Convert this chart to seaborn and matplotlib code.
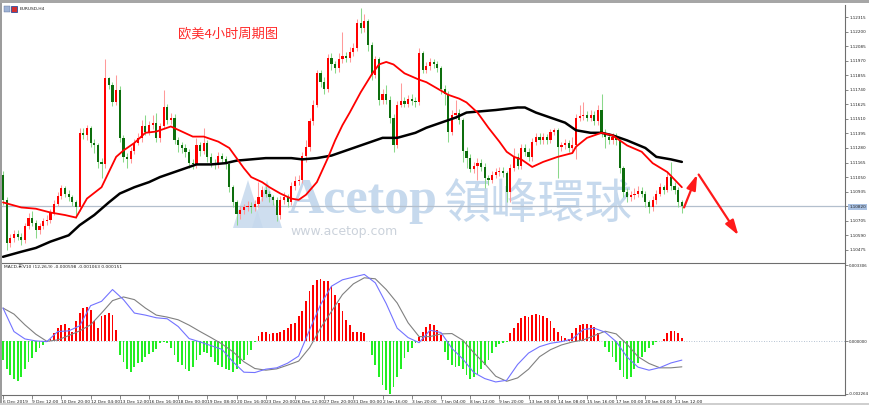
#!/usr/bin/env python3
"""
EURUSD H4 캔들 + MA + MACD (MT4 스타일 재현)
"""

import numpy as np
import matplotlib
matplotlib.use('Agg')
import matplotlib.pyplot as plt
from matplotlib.patches import Rectangle, Polygon
import seaborn as sns

# ---- 가격 데이터 (4시간봉, 6 Dec 2019 ~ 21 Jan 2020) ----
first_open = 1.1107

closes = [
    1.1087, 1.1053, 1.1057, 1.1060, 1.1058, 1.1055, 1.1066, 1.1073, 1.1069, 1.1063,
    1.1066, 1.1070, 1.1071, 1.1077, 1.1084, 1.1090, 1.1096, 1.1092, 1.1089, 1.1085,
    1.1081, 1.1140, 1.1138, 1.1144, 1.1132, 1.1130, 1.1117, 1.1115, 1.1183, 1.1178,
    1.1164, 1.1174, 1.1136, 1.1121, 1.1119, 1.1126, 1.1132, 1.1136, 1.1145, 1.1141,
    1.1146, 1.1148, 1.1136, 1.1145, 1.1160, 1.1150, 1.1152, 1.1134, 1.1130, 1.1128,
    1.1125, 1.1116, 1.1115, 1.1130, 1.1126, 1.1132, 1.1121, 1.1116, 1.1115, 1.1122,
    1.1119, 1.1115, 1.1097, 1.1085, 1.1076, 1.1079, 1.1081, 1.1082, 1.1081, 1.1084,
    1.1089, 1.1095, 1.1092, 1.1089, 1.1087, 1.1075, 1.1087, 1.1089, 1.1085, 1.1098,
    1.1102, 1.1103, 1.1122, 1.1129, 1.1149, 1.1162, 1.1187, 1.1180, 1.1175, 1.1199,
    1.1194, 1.1191, 1.1198, 1.1201, 1.1199, 1.1204, 1.1207, 1.1227, 1.1223, 1.1228,
    1.1209, 1.1186, 1.1198, 1.1166, 1.1171, 1.1166, 1.1152, 1.1130, 1.1162, 1.1165,
    1.1163, 1.1167, 1.1165, 1.1164, 1.1203, 1.1190, 1.1193, 1.1196, 1.1194, 1.1191,
    1.1175, 1.1171, 1.1141, 1.1154, 1.1156, 1.1150, 1.1126, 1.1120, 1.1111, 1.1114,
    1.1116, 1.1113, 1.1104, 1.1103, 1.1107, 1.1109, 1.1110, 1.1108, 1.1093, 1.1112,
    1.1121, 1.1114, 1.1128, 1.1125, 1.1121, 1.1133, 1.1137, 1.1134, 1.1137, 1.1134,
    1.1141, 1.1142, 1.1129, 1.1130, 1.1132, 1.1128, 1.1130, 1.1152, 1.1153, 1.1154,
    1.1152, 1.1154, 1.1149, 1.1158, 1.1140, 1.1137, 1.1134, 1.1137, 1.1134, 1.1112,
    1.1093, 1.1089, 1.1091, 1.1092, 1.1094, 1.1092, 1.1085, 1.1081, 1.1087, 1.1092,
    1.1097, 1.1095, 1.1105, 1.1098, 1.1095, 1.1085, 1.1082,
]

highs = [
    1.1110, 1.1089, 1.1060, 1.1063, 1.1063, 1.1061, 1.1069, 1.1077, 1.1078, 1.1071,
    1.1069, 1.1073, 1.1075, 1.1080, 1.1087, 1.1093, 1.1099, 1.1098, 1.1095, 1.1091,
    1.1087, 1.1144, 1.1144, 1.1146, 1.1145, 1.1135, 1.1132, 1.1120, 1.1198, 1.1184,
    1.1180, 1.1186, 1.1177, 1.1138, 1.1124, 1.1129, 1.1135, 1.1140, 1.1150, 1.1154,
    1.1149, 1.1154, 1.1156, 1.1148, 1.1174, 1.1163, 1.1156, 1.1155, 1.1137, 1.1133,
    1.1131, 1.1127, 1.1119, 1.1136, 1.1133, 1.1144, 1.1134, 1.1124, 1.1119, 1.1125,
    1.1124, 1.1122, 1.1117, 1.1099, 1.1087, 1.1082, 1.1084, 1.1086, 1.1085, 1.1087,
    1.1101, 1.1098, 1.1098, 1.1094, 1.1091, 1.1089, 1.1090, 1.1093, 1.1092, 1.1101,
    1.1106, 1.1107, 1.1125, 1.1134, 1.1152, 1.1166, 1.1190, 1.1190, 1.1184, 1.1202,
    1.1203, 1.1197, 1.1203, 1.1220, 1.1204, 1.1208, 1.1211, 1.1230, 1.1239, 1.1234,
    1.1230, 1.1212, 1.1201, 1.1200, 1.1175, 1.1178, 1.1169, 1.1155, 1.1165, 1.1179,
    1.1168, 1.1170, 1.1171, 1.1168, 1.1207, 1.1205, 1.1196, 1.1199, 1.1198, 1.1197,
    1.1193, 1.1178, 1.1173, 1.1158, 1.1166, 1.1159, 1.1152, 1.1129, 1.1123, 1.1117,
    1.1120, 1.1119, 1.1116, 1.1107, 1.1110, 1.1112, 1.1113, 1.1113, 1.1110, 1.1115,
    1.1128, 1.1124, 1.1131, 1.1131, 1.1128, 1.1136, 1.1140, 1.1140, 1.1140, 1.1139,
    1.1143, 1.1144, 1.1144, 1.1133, 1.1135, 1.1134, 1.1137, 1.1155, 1.1162, 1.1164,
    1.1157, 1.1158, 1.1157, 1.1162, 1.1171, 1.1143, 1.1140, 1.1140, 1.1140, 1.1136,
    1.1114, 1.1096, 1.1094, 1.1096, 1.1098, 1.1097, 1.1094, 1.1087, 1.1090, 1.1095,
    1.1100, 1.1099, 1.1109, 1.1117, 1.1101, 1.1097, 1.1087,
]

lows = [
    1.1083, 1.1047, 1.1050, 1.1054, 1.1055, 1.1051, 1.1053, 1.1064, 1.1066, 1.1057,
    1.1060, 1.1064, 1.1067, 1.1069, 1.1075, 1.1082, 1.1088, 1.1089, 1.1086, 1.1082,
    1.1073, 1.1078, 1.1135, 1.1134, 1.1129, 1.1124, 1.1112, 1.1104, 1.1112, 1.1175,
    1.1161, 1.1162, 1.1133, 1.1117, 1.1112, 1.1116, 1.1123, 1.1130, 1.1133, 1.1138,
    1.1138, 1.1143, 1.1133, 1.1133, 1.1143, 1.1147, 1.1147, 1.1131, 1.1125, 1.1124,
    1.1121, 1.1112, 1.1111, 1.1112, 1.1122, 1.1123, 1.1117, 1.1113, 1.1111, 1.1112,
    1.1116, 1.1111, 1.1093, 1.1081, 1.1067, 1.1072, 1.1076, 1.1078, 1.1077, 1.1078,
    1.1081, 1.1086, 1.1089, 1.1085, 1.1083, 1.1070, 1.1072, 1.1084, 1.1081, 1.1083,
    1.1095, 1.1099, 1.1100, 1.1117, 1.1126, 1.1146, 1.1160, 1.1176, 1.1171, 1.1172,
    1.1190, 1.1187, 1.1188, 1.1195, 1.1196, 1.1196, 1.1201, 1.1205, 1.1219, 1.1220,
    1.1205, 1.1182, 1.1183, 1.1162, 1.1163, 1.1163, 1.1148, 1.1125, 1.1128, 1.1160,
    1.1160, 1.1160, 1.1162, 1.1160, 1.1162, 1.1187, 1.1187, 1.1190, 1.1191, 1.1188,
    1.1171, 1.1162, 1.1133, 1.1138, 1.1151, 1.1147, 1.1117, 1.1112, 1.1109, 1.1108,
    1.1103, 1.1110, 1.1096, 1.1099, 1.1100, 1.1104, 1.1106, 1.1105, 1.1085, 1.1085,
    1.1110, 1.1111, 1.1111, 1.1122, 1.1118, 1.1118, 1.1130, 1.1131, 1.1131, 1.1131,
    1.1132, 1.1138, 1.1104, 1.1126, 1.1127, 1.1125, 1.1125, 1.1119, 1.1149, 1.1150,
    1.1149, 1.1149, 1.1146, 1.1146, 1.1137, 1.1128, 1.1131, 1.1131, 1.1130, 1.1108,
    1.1089, 1.1085, 1.1086, 1.1088, 1.1089, 1.1089, 1.1081, 1.1077, 1.1078, 1.1084,
    1.1090, 1.1092, 1.1093, 1.1095, 1.1092, 1.1081, 1.1077,
]

# 이동평균선 (그림에서 읽은 점)
ma_fast_bar = [0, 5, 9, 13, 17, 20, 23, 27, 29, 31, 33, 36, 39, 42, 46, 49, 52, 55, 59, 62,
               64, 66, 68, 71, 73, 76, 79, 81, 83, 86, 89, 91, 93, 95, 98, 101, 103, 105, 107, 110,
               114, 116, 119, 122, 125, 127, 130, 133, 136, 138, 140, 142, 145, 148, 152, 156, 157, 160, 164, 167,
               168, 171, 175, 178, 182, 186]
ma_fast = [1.1085, 1.1081, 1.1080, 1.1077, 1.1075, 1.1073, 1.1088, 1.1097, 1.1109, 1.1121,
           1.1126, 1.1132, 1.1140, 1.1141, 1.1145, 1.1141, 1.1137, 1.1137, 1.1133, 1.1128,
           1.1120, 1.1112, 1.1105, 1.1101, 1.1097, 1.1092, 1.1088, 1.1087, 1.1091, 1.1101,
           1.1120, 1.1134, 1.1146, 1.1156, 1.1172, 1.1186, 1.1194, 1.1196, 1.1194, 1.1187,
           1.1182, 1.1180, 1.1175, 1.1170, 1.1167, 1.1164, 1.1156, 1.1144, 1.1133, 1.1125,
           1.1121, 1.1119, 1.1113, 1.1117, 1.1121, 1.1124, 1.1129, 1.1136, 1.1140, 1.1138,
           1.1136, 1.1130, 1.1125, 1.1116, 1.1109, 1.1097]

ma_slow_bar = [0, 5, 9, 13, 18, 21, 25, 29, 32, 36, 40, 43, 46, 50, 53, 57, 61, 64, 68, 72,
               75, 79, 82, 86, 90, 93, 96, 100, 104, 108, 113, 116, 120, 124, 127, 131, 135, 138, 141, 143,
               146, 150, 154, 157, 161, 164, 167, 171, 176, 179, 183, 186]
ma_slow = [1.1042, 1.1046, 1.1049, 1.1054, 1.1059, 1.1067, 1.1075, 1.1085, 1.1092, 1.1097,
           1.1101, 1.1105, 1.1108, 1.1112, 1.1115, 1.1115, 1.1116, 1.1118, 1.1119, 1.1120,
           1.1120, 1.1120, 1.1119, 1.1120, 1.1122, 1.1125, 1.1128, 1.1132, 1.1136, 1.1136,
           1.1140, 1.1144, 1.1148, 1.1152, 1.1156, 1.1157, 1.1158, 1.1159, 1.1160, 1.1160,
           1.1156, 1.1152, 1.1148, 1.1142, 1.1140, 1.1140, 1.1138, 1.1134, 1.1128, 1.1121,
           1.1119, 1.1117]

# MACD (단위: 1e-6)
macd_hist_e6 = [
    -816, -1180, -1471, -1617, -1734, -1544, -1180, -889, -743, -452, -306, -160, -44,
    102, 379, 568, 714, 743, 568, 423, 860, 1224, 1442, 1472, 1370, 860, 568, 1078, 1151, 1224, 1151, 495,
    -597, -889, -1180, -1326, -1107, -962, -889, -670, -568, -452, -335, -87, -44, -87, -306, -597,
    -889, -1034, -1180, -1297, -1107, -816, -597, -452, -525, -670, -889, -1034, -1107, -1180, -1253, -1326,
    -1180, -1005, -816, -597, -379, -15,
    248, 393, 393, 306, 350, 379, 423, 495, 568, 743, 787, 1078, 1297, 1734, 2171, 2462, 2637, 2681,
    2608, 2608, 2389, 2025, 1661, 1297, 932, 685, 423, 423, 393, 379, 15,
    -597, -1034, -1544, -1909, -2127, -2273, -1982, -1544, -1180, -743, -452, -277, -87,
    204, 423, 641, 743, 714, 495, 277,
    -452, -816, -1034, -1107, -1064, -1180, -1471, -1617, -1544, -1399, -1180, -1034, -816, -525, -233, -131, -87, -15,
    350, 568, 787, 1005, 1078, 1034, 1151, 1180, 1122, 1078, 1005, 860, 568, 393, 248, 160, 102, 350,
    568, 685, 743, 743, 714, 641, 350, 15,
    -233, -452, -670, -889, -1253, -1544, -1617, -1544, -1180, -962, -670, -452, -277, -160, -44,
    15, 102, 350, 466, 466, 350, 160,
]
macd_line_bar = list(range(0, 187, 3))
macd_main_e6 = [
    1442, 423, 102, 15, -15, 423, 452, 670, 1544, 1734,
    2244, 1807, 1224, 1136, 1020, 976, 641, 117, -29, -189,
    -350, -889, -1340, -1355, -1209, -1151, -947, -641, 495, 1588,
    2389, 2666, 2783, 2899, 2535, 1632, 568, 160, -58, 481,
    379, -306, -772, -1355, -1617, -1763, -1690, -1005, -510, -233,
    -87, -15, 102, 510, 568, 393, -15, -685, -1122, -1253,
    -1140, -940, -816,
]
macd_signal_e6 = [
    1442, 1180, 714, 306, 0, 58, 248, 452, 714, 1224,
    1763, 1923, 1807, 1442, 1136, 1049, 932, 699, 423, 160,
    -117, -452, -889, -1180, -1253, -1195, -1034, -860, -277, 568,
    1297, 2025, 2491, 2754, 2710, 2244, 1661, 801, 204, 204,
    321, 335, 44, -495, -976, -1515, -1734, -1588, -1209, -670,
    -364, -160, -29, 58, 248, 437, 321, -131, -670, -962,
    -1151, -1151, -1107,
]

# 축 라벨
price_ticks = [1.12315, 1.12200, 1.12085, 1.11970, 1.11855, 1.11740, 1.11625, 1.11510, 1.11395,
               1.11280, 1.11165, 1.11050, 1.10935, 1.10820, 1.10705, 1.10590, 1.10475]
macd_ticks = [0.003306, 0.0, -0.002264]
time_label_bar = [0, 8, 16, 24, 32, 40, 48, 56, 64, 72, 80, 88, 96, 104, 112, 120,
                  128, 136, 144, 152, 160, 168, 176, 184]
time_labels = ['6 Dec 2019', '9 Dec 12:00', '10 Dec 20:00', '12 Dec 04:00', '13 Dec 12:00',
               '16 Dec 16:00', '18 Dec 00:00', '19 Dec 08:00', '20 Dec 16:00', '23 Dec 20:00',
               '26 Dec 12:00', '27 Dec 20:00', '31 Dec 00:00', '2 Jan 16:00', '3 Jan 20:00',
               '7 Jan 04:00', '8 Jan 12:00', '9 Jan 20:00', '13 Jan 00:00', '14 Jan 08:00',
               '15 Jan 16:00', '17 Jan 00:00', '20 Jan 04:00', '21 Jan 12:00']

# 예상 경로 화살표 (bar, price)
arrow_up = [(186.6, 1.1081), (190.2, 1.1107)]
arrow_down = [(190.6, 1.1107), (201.5, 1.1059)]

# ---- 스타일 ----
sns.set_style('white')
plt.rcParams['font.family'] = ['DejaVu Sans', 'Noto Sans CJK SC']

W, H = 870, 405
fig = plt.figure(figsize=(W / 100, H / 100), dpi=100)
fig.patch.set_facecolor('white')


def px_box(left, top, right, bottom):
    return [left / W, 1 - bottom / H, (right - left) / W, (bottom - top) / H]


def fx(px):
    return px / W


def fy(py):
    return 1 - py / H


ax = fig.add_axes(px_box(1, 5, 845, 263))
axm = fig.add_axes(px_box(1, 263, 845, 395))

# ---- 캔들 ----
x = np.arange(len(closes))
c = np.array(closes)
o = np.array([first_open] + closes[:-1])
hi = np.maximum(np.array(highs), np.maximum(o, c))
lo = np.minimum(np.array(lows), np.minimum(o, c))
up = c >= o

ax.axhline(closes[-1], color='#b3bfcd', lw=0.9, zorder=1)
ax.vlines(x, lo, hi, colors=['#ff9a9a' if u else '#8ad88a' for u in up], lw=0.75, zorder=3)
ax.bar(x, np.maximum(np.abs(c - o), 0.00004), bottom=np.minimum(o, c), width=0.6,
       color=['#ff0000' if u else '#0d6e0d' for u in up], linewidth=0, zorder=4)

sns.lineplot(x=ma_slow_bar, y=ma_slow, ax=ax, color='black', linewidth=1.8, legend=False, zorder=5)
sns.lineplot(x=ma_fast_bar, y=ma_fast, ax=ax, color='#ff0000', linewidth=1.3, legend=False, zorder=6)

for (x0, y0), (x1, y1) in [arrow_up, arrow_down]:
    ax.annotate('', xy=(x1, y1), xytext=(x0, y0), annotation_clip=False,
                arrowprops=dict(arrowstyle='-|>,head_length=0.9,head_width=0.28',
                                color='#ff1a1a', lw=1.6, shrinkA=0, shrinkB=0), zorder=7)

ax.set_xlim(-0.55, 230.7)
ax.set_ylim(1.10371, 1.12410)
ax.set_xticks([])
ax.set_xlabel('')
ax.set_ylabel('')
ax.yaxis.tick_right()
ax.set_yticks(price_ticks)
ylabels = ax.set_yticklabels([f'{p:.5f}' for p in price_ticks])
ax.tick_params(axis='y', labelsize=3.0, length=2, width=0.5, pad=1.0,
               color='#555555', labelcolor='#222222')
ylabels[price_ticks.index(1.10820)].set_bbox(dict(facecolor='#a9c1e2', edgecolor='none', pad=0.6))

# 워터마크
wm = '#c6d9ed'
ax.text(fx(288), fy(213), 'Acetop', family='Liberation Serif', weight='bold', fontsize=36,
        color=wm, va='baseline', ha='left', transform=fig.transFigure, zorder=0.5)
ax.text(fx(444), fy(205), '領峰環球', family=['Noto Sans CJK TC'], fontsize=34,
        color=wm, va='center', ha='left', transform=fig.transFigure, zorder=0.5)
ax.text(fx(290), fy(232), 'www.acetop.com', fontsize=9.0, color='#cbd2db',
        va='center', ha='left', transform=fig.transFigure, zorder=0.5)
for tri in [[(233, 228), (248, 180), (263, 228)], [(252, 228), (267, 180), (282, 228)]]:
    ax.add_patch(Polygon([(fx(a), fy(b)) for a, b in tri], closed=True, facecolor=wm,
                         edgecolor='none', alpha=0.85, transform=fig.transFigure, zorder=0.5))

# 제목 / 심볼
ax.text(fx(178), fy(34), '欧美4小时周期图', family=['Noto Sans CJK SC'], fontsize=9.5,
        color='#ff2b2b', va='center', ha='left', transform=fig.transFigure)
ax.text(fx(20), fy(9), 'EURUSD,H4', fontsize=3.2, color='#222222', va='center', ha='left',
        transform=fig.transFigure)
fig.add_artist(Rectangle((fx(4), fy(12)), 6 / W, 6 / H, transform=fig.transFigure,
                         facecolor='#9fb3d6', edgecolor='#5a6e96', lw=0.3))
fig.add_artist(Rectangle((fx(11), fy(12)), 6 / W, 6 / H, transform=fig.transFigure,
                         facecolor='#d23030', edgecolor='#2b4fa0', lw=0.6))

# ---- MACD ----
hist = np.array(macd_hist_e6) * 1e-6
hx = np.arange(len(hist))
axm.axhline(0, color='#9fb0c4', lw=0.6, ls=(0, (1, 2)), zorder=1)
axm.bar(hx, hist, width=0.5, color=['#ff0000' if v >= 0 else '#22ee22' for v in hist],
        linewidth=0, zorder=2)
sns.lineplot(x=macd_line_bar, y=np.array(macd_signal_e6) * 1e-6, ax=axm, color='#808080',
             linewidth=0.8, legend=False, zorder=3)
sns.lineplot(x=macd_line_bar, y=np.array(macd_main_e6) * 1e-6, ax=axm, color='#7373ff',
             linewidth=0.8, legend=False, zorder=4)

axm.set_xlim(-0.55, 230.7)
axm.set_ylim(-0.002329, 0.003395)
axm.set_xlabel('')
axm.set_ylabel('')
axm.yaxis.tick_right()
axm.set_yticks(macd_ticks)
axm.set_yticklabels([f'{v:.6f}' for v in macd_ticks])
axm.tick_params(axis='y', labelsize=2.8, length=2, width=0.5, pad=0.8,
                color='#555555', labelcolor='#222222')
axm.set_xticks(time_label_bar)
axm.set_xticklabels(time_labels, ha='left')
axm.tick_params(axis='x', labelsize=3.2, length=3, width=0.5, pad=0.6,
                color='#555555', labelcolor='#222222', bottom=True)
axm.text(0.003, 0.985, 'MACD-彩V10 (12,26,9) -0.000598 -0.001063 0.000151', fontsize=3.2,
         color='#222222', va='top', ha='left', transform=axm.transAxes)

# 테두리
for a in (ax, axm):
    a.set_facecolor('none')
    a.spines['top'].set_visible(False)
    a.spines['left'].set_visible(False)
    for s in ('right', 'bottom'):
        a.spines[s].set_color('#6e6e6e')
        a.spines[s].set_linewidth(0.8)

fig.add_artist(Rectangle((0, 0), 2 / W, 1, transform=fig.transFigure, facecolor='#9c9c9c',
                         edgecolor='none'))
fig.add_artist(Rectangle((0, fy(3)), 1, 3 / H, transform=fig.transFigure, facecolor='#a6a6a6',
                         edgecolor='none'))
fig.add_artist(Rectangle((0, 0), 1, 2 / H, transform=fig.transFigure, facecolor='#cfcfcf',
                         edgecolor='none'))

fig.savefig('out.png', dpi=100)
